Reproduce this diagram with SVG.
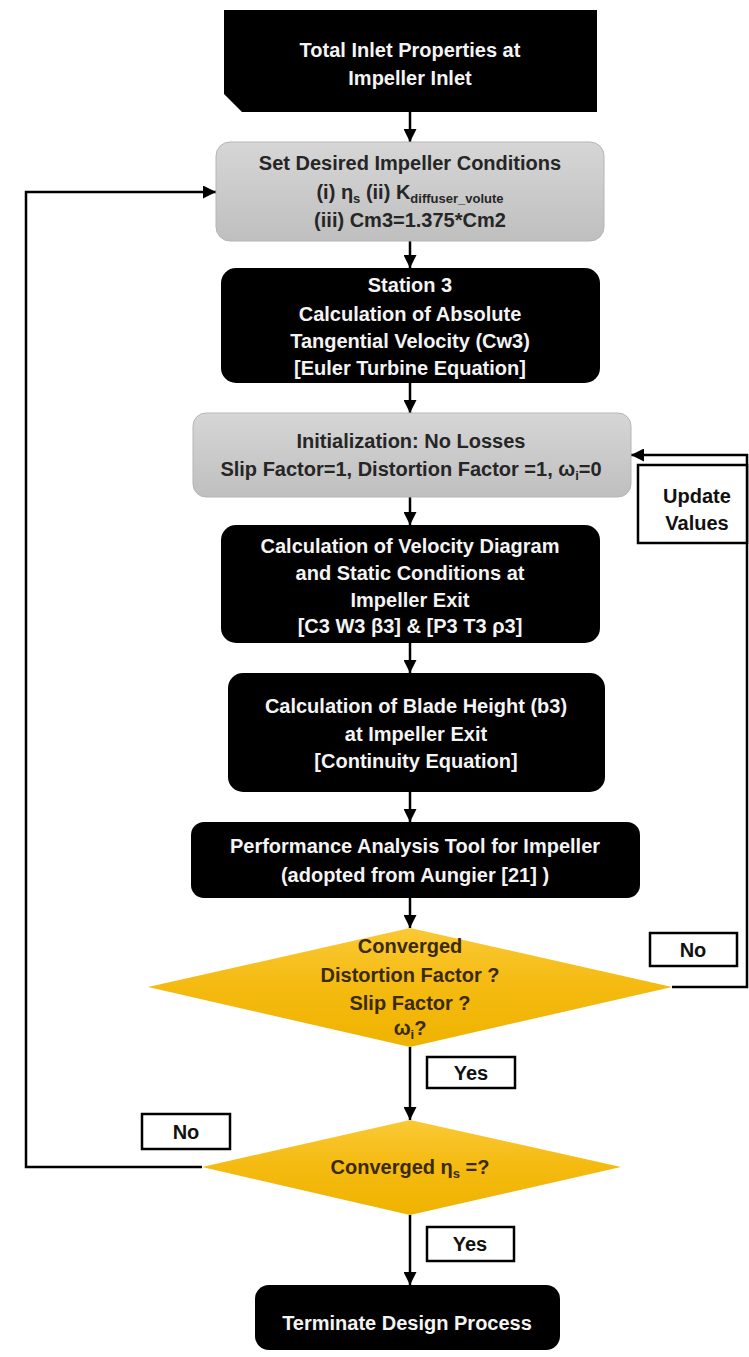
<svg xmlns="http://www.w3.org/2000/svg" width="749" height="1357" viewBox="0 0 749 1357">
<defs>
<linearGradient id="gray" x1="0" y1="0" x2="0" y2="1">
<stop offset="0" stop-color="#D6D6D6"/>
<stop offset="1" stop-color="#BFBFBF"/>
</linearGradient>
<linearGradient id="gold" x1="0" y1="0" x2="0" y2="1">
<stop offset="0" stop-color="#FAC935"/>
<stop offset="0.5" stop-color="#F4BA10"/>
<stop offset="1" stop-color="#EFB300"/>
</linearGradient>
<marker id="ah" viewBox="0 0 12 12" refX="12" refY="6" markerWidth="13" markerHeight="13" markerUnits="userSpaceOnUse" orient="auto">
<path d="M0,0 L12,6 L0,12 z" fill="#000"/>
</marker>
</defs>
<style>
text{font-family:"Liberation Sans",Arial,sans-serif;font-weight:bold;font-size:20px;text-anchor:middle}
.dark{fill:#000}
.grey{fill:url(#gray);stroke:#B5B5B5;stroke-width:1}
.gt{fill:#262626}
.wt{fill:#F4F4F4}
.dt{fill:#3A2A08}
.dia{fill:url(#gold)}
.lab{fill:#fff;stroke:#000;stroke-width:2.5}
.lt{fill:#111}
.con{fill:none;stroke:#000;stroke-width:2.5}
.sub{font-size:13px}
</style>
<g id="connectors">
<line class="con" x1="410" y1="112" x2="410" y2="142" marker-end="url(#ah)"/>
<line class="con" x1="410" y1="241" x2="410" y2="268" marker-end="url(#ah)"/>
<line class="con" x1="410" y1="383" x2="410" y2="413" marker-end="url(#ah)"/>
<line class="con" x1="410" y1="497" x2="410" y2="525" marker-end="url(#ah)"/>
<line class="con" x1="410" y1="643" x2="410" y2="673" marker-end="url(#ah)"/>
<line class="con" x1="410" y1="792" x2="410" y2="822" marker-end="url(#ah)"/>
<line class="con" x1="410" y1="898" x2="410" y2="928" marker-end="url(#ah)"/>
<line class="con" x1="410" y1="1047" x2="410" y2="1120" marker-end="url(#ah)"/>
<line class="con" x1="410" y1="1215" x2="410" y2="1285" marker-end="url(#ah)"/>
<polyline class="con" points="672,987 747,987 747,455 631,455" marker-end="url(#ah)"/>
<polyline class="con" points="202,1167 26,1167 26,192 216,192" marker-end="url(#ah)"/>
</g>
<g id="n1">
<path class="dark" d="M224,10 L597,10 L597,112 L242,112 L224,94 Z"/>
<text class="wt" x="410" y="57">Total Inlet Properties at</text>
<text class="wt" x="410" y="85">Impeller Inlet</text>
</g>
<g id="n2">
<rect class="grey" x="216" y="142" width="388" height="99" rx="14"/>
<text class="gt" x="410" y="170">Set Desired Impeller Conditions</text>
<text class="gt" x="410" y="199">(i) η<tspan class="sub" dy="4">s</tspan><tspan dy="-4"> (ii) K</tspan><tspan class="sub" dy="4">diffuser_volute</tspan></text>
<text class="gt" x="410" y="227">(iii) Cm3=1.375*Cm2</text>
</g>
<g id="n3">
<rect class="dark" x="221" y="268" width="379" height="115" rx="15"/>
<text class="wt" x="410" y="292">Station 3</text>
<text class="wt" x="410" y="321">Calculation of Absolute</text>
<text class="wt" x="410" y="348">Tangential Velocity (Cw3)</text>
<text class="wt" x="410" y="375">[Euler Turbine Equation]</text>
</g>
<g id="n4">
<rect class="grey" x="193" y="413" width="438" height="84" rx="13"/>
<text class="gt" x="411" y="448">Initialization: No Losses</text>
<text class="gt" x="411" y="476">Slip Factor=1, Distortion Factor =1, ω<tspan class="sub" dy="4">i</tspan><tspan dy="-4">=0</tspan></text>
</g>
<g id="n5">
<rect class="dark" x="221" y="525" width="379" height="118" rx="15"/>
<text class="wt" x="410" y="553">Calculation of Velocity Diagram</text>
<text class="wt" x="410" y="580">and Static Conditions at</text>
<text class="wt" x="410" y="607">Impeller Exit</text>
<text class="wt" x="410" y="633">[C3 W3 β3] &amp; [P3 T3 ρ3]</text>
</g>
<g id="n6">
<rect class="dark" x="228" y="673" width="377" height="119" rx="15"/>
<text class="wt" x="416" y="713">Calculation of Blade Height (b3)</text>
<text class="wt" x="416" y="741">at Impeller Exit</text>
<text class="wt" x="416" y="768">[Continuity Equation]</text>
</g>
<g id="n7">
<rect class="dark" x="191" y="822" width="449" height="76" rx="13"/>
<text class="wt" x="415" y="853">Performance Analysis Tool for Impeller</text>
<text class="wt" x="415" y="882">(adopted from Aungier [21] )</text>
</g>
<g id="d1">
<polygon class="dia" points="410,928 672,987 410,1047 148,987"/>
<text class="dt" x="410" y="953">Converged</text>
<text class="dt" x="410" y="982">Distortion Factor ?</text>
<text class="dt" x="410" y="1010">Slip Factor ?</text>
<text class="dt" x="410" y="1035">ω<tspan class="sub" dy="4">i</tspan><tspan dy="-4">?</tspan></text>
</g>
<g id="d2">
<polygon class="dia" points="410,1120 621,1167 410,1215 202,1167"/>
<text class="dt" x="410" y="1174">Converged η<tspan class="sub" dy="4">s</tspan><tspan dy="-4"> =?</tspan></text>
</g>
<g id="n8">
<rect class="dark" x="255" y="1285" width="305" height="65" rx="14"/>
<text class="wt" x="407" y="1330">Terminate Design Process</text>
</g>
<g id="lbl-update">
<rect class="lab" x="638" y="465" width="109" height="78"/>
<text class="lt" x="697" y="503">Update</text>
<text class="lt" x="697" y="530">Values</text>
</g>
<g id="lbl-no1">
<rect class="lab" x="650" y="933" width="87" height="33"/>
<text class="lt" x="693" y="957">No</text>
</g>
<g id="lbl-yes1">
<rect class="lab" x="427" y="1057" width="88" height="31"/>
<text class="lt" x="471" y="1080">Yes</text>
</g>
<g id="lbl-no2">
<rect class="lab" x="142" y="1114" width="88" height="35"/>
<text class="lt" x="186" y="1139">No</text>
</g>
<g id="lbl-yes2">
<rect class="lab" x="427" y="1227" width="87" height="34"/>
<text class="lt" x="470" y="1251">Yes</text>
</g>
</svg>
